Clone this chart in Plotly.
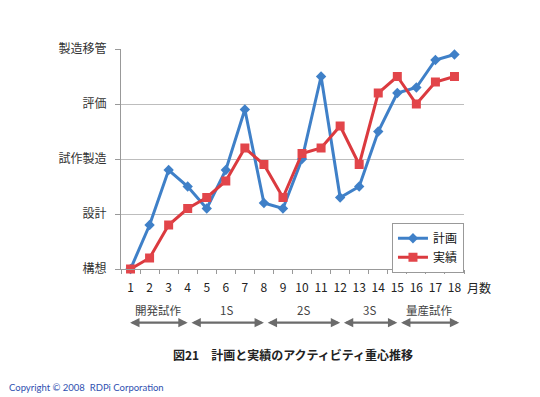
import plotly.graph_objects as go

months = list(range(1, 19))
plan = [0, 0.8, 1.8, 1.5, 1.1, 1.8, 2.9, 1.2, 1.1, 2.0, 3.5, 1.3, 1.5, 2.5, 3.2, 3.3, 3.8, 3.9]
actual = [0, 0.2, 0.8, 1.1, 1.3, 1.6, 2.2, 1.9, 1.3, 2.1, 2.2, 2.6, 1.9, 3.2, 3.5, 3.0, 3.4, 3.5]
stage_labels = ["構想", "設計", "試作製造", "評価", "製造移管"]
phase_names = ["開発試作", "1S", "2S", "3S", "量産試作"]
phase_bounds = [1, 4, 8, 12, 15, 18]

FONT = "Noto Sans CJK JP"
BLUE = "#3f80c8"
RED = "#db3a3f"

fig = go.Figure()
fig.add_trace(go.Scatter(x=months, y=plan, name="計画", mode="lines+markers",
                         line=dict(color=BLUE, width=3),
                         marker=dict(symbol="diamond", size=8, color=BLUE),
                         cliponaxis=False))
fig.add_trace(go.Scatter(x=months, y=actual, name="実績", mode="lines+markers",
                         line=dict(color=RED, width=3),
                         marker=dict(symbol="square", size=9, color="#e2454a"),
                         cliponaxis=False))

# phase arrows and labels
for i, name in enumerate(phase_names):
    a = phase_bounds[i] + 0.12
    b = phase_bounds[i + 1]
    if i == 0:
        a = phase_bounds[0] - 0.1
    if i == len(phase_names) - 1:
        b = phase_bounds[-1] + 0.25
    fig.add_annotation(x=b, y=-0.244, xref="x", yref="paper",
                       ax=a, ay=0, axref="x", ayref="pixel",
                       showarrow=True, arrowhead=2, arrowside="end+start",
                       arrowsize=0.85, arrowwidth=2.2, arrowcolor="#6b6b6b", text="")
    fig.add_annotation(x=(a + b) / 2, y=-0.188, xref="x", yref="paper",
                       yanchor="middle", text=name, showarrow=False,
                       font=dict(family=FONT, size=11.5, color="#444"))

fig.add_annotation(x=1.085, y=-0.084, xref="paper", yref="paper", text="月数",
                   yanchor="middle", showarrow=False,
                   font=dict(family=FONT, size=12, color="#222"))

fig.add_annotation(x=-0.333, y=-0.54, xref="paper", yref="paper",
                   xanchor="left", yanchor="middle",
                   text="Copyright © 2008  RDPi Corporation",
                   showarrow=False, font=dict(family="Lato", size=9.5, color="#2f4fb0"))

fig.update_layout(
    width=532, height=389,
    margin=dict(l=113, r=76, t=41, b=128, autoexpand=False),
    paper_bgcolor="white", plot_bgcolor="white",
    font=dict(family=FONT, size=12, color="#222"),
    showlegend=True,
    legend=dict(x=0.79, y=0.21, xanchor="left", yanchor="top",
                bgcolor="white", bordercolor="#999", borderwidth=1,
                font=dict(family=FONT, size=12, color="#111"),
                itemwidth=30, tracegroupgap=0),
    xaxis=dict(range=[0.5, 18.5], tickvals=months, ticktext=[str(m) for m in months],
               ticks="", showgrid=False, zeroline=False,
               showline=True, linecolor="#999", linewidth=1,
               ticklabelstandoff=8,
               tickfont=dict(family=FONT, size=12, color="#222"),
               minor=dict(tick0=0.5, dtick=1, ticks="outside", ticklen=4,
                          tickcolor="#999", showgrid=False)),
    yaxis=dict(range=[0, 4], tickvals=list(range(5)), ticktext=stage_labels,
               ticks="outside", ticklen=5, tickcolor="#999",
               showgrid=True, gridcolor="#bdbdbd", gridwidth=1,
               zeroline=False, showline=True, linecolor="#999", linewidth=1,
               ticklabelstandoff=6,
               tickfont=dict(family=FONT, size=12, color="#333")),
)

fig.add_annotation(x=0.5, xref="paper", y=-0.39, yref="paper", yanchor="middle",
                   text="<b>図21　計画と実績のアクティビティ重心推移</b>",
                   showarrow=False, font=dict(family=FONT, size=12, color="#222"))

fig.write_html("out.html")
